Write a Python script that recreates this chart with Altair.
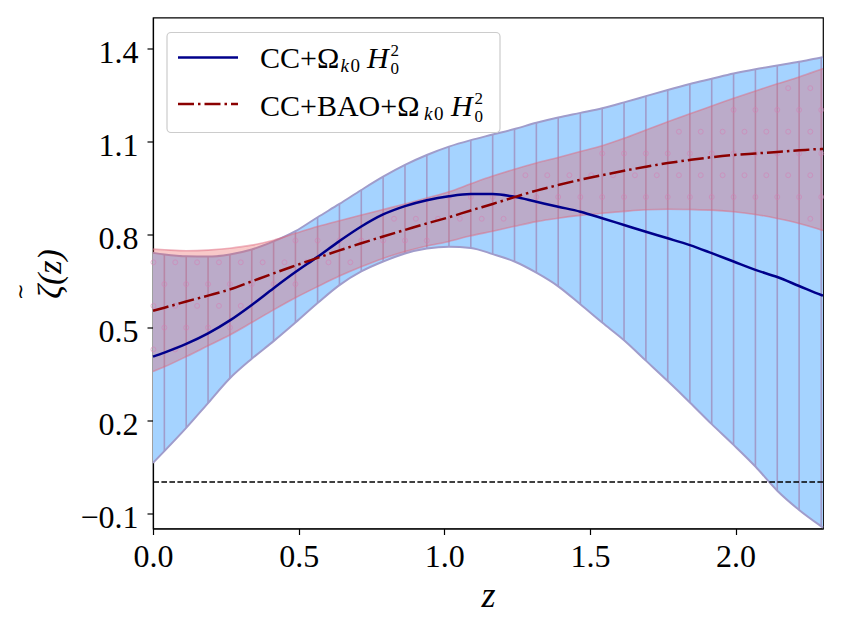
import altair as alt
import pandas as pd

# ---------------- data ----------------
Z = [0.0, 0.039, 0.114, 0.189, 0.264, 0.339, 0.414, 0.489, 0.565, 0.640, 0.715,
     0.790, 0.865, 0.940, 1.016, 1.091, 1.166, 1.241, 1.316, 1.391, 1.467, 1.542,
     1.617, 1.692, 1.767, 1.843, 1.918, 1.993, 2.068, 2.143, 2.218, 2.294, 2.3]

CC_LO = [0.062, 0.100, 0.175, 0.255, 0.335, 0.398, 0.455, 0.515, 0.578, 0.636, 0.680,
         0.712, 0.738, 0.754, 0.760, 0.756, 0.736, 0.712, 0.676, 0.632, 0.574, 0.515,
         0.458, 0.392, 0.326, 0.257, 0.187, 0.120, 0.050, -0.028, -0.090, -0.143, -0.147]

CC_HI = [0.740, 0.735, 0.729, 0.728, 0.735, 0.751, 0.777, 0.810, 0.855, 0.898, 0.943,
         0.986, 1.024, 1.056, 1.083, 1.104, 1.122, 1.140, 1.160, 1.177, 1.192, 1.207,
         1.226, 1.246, 1.266, 1.285, 1.302, 1.319, 1.333, 1.345, 1.357, 1.371, 1.372]

BAO_LO = [0.357, 0.372, 0.405, 0.440, 0.475, 0.515, 0.556, 0.595, 0.631, 0.665, 0.695,
          0.722, 0.744, 0.762, 0.777, 0.795, 0.810, 0.826, 0.841, 0.852, 0.861, 0.868,
          0.874, 0.879, 0.881, 0.880, 0.878, 0.873, 0.864, 0.851, 0.835, 0.814, 0.812]

BAO_HI = [0.752, 0.750, 0.747, 0.749, 0.755, 0.765, 0.781, 0.803, 0.825, 0.844, 0.862,
          0.880, 0.898, 0.917, 0.937, 0.963, 0.988, 1.010, 1.030, 1.048, 1.067, 1.086,
          1.110, 1.137, 1.163, 1.189, 1.214, 1.239, 1.263, 1.286, 1.308, 1.333, 1.335]

CC_MEAN = [0.405, 0.418, 0.446, 0.480, 0.522, 0.572, 0.626, 0.678, 0.727, 0.778, 0.825,
           0.864, 0.891, 0.910, 0.923, 0.930, 0.930, 0.921, 0.905, 0.889, 0.873, 0.852,
           0.830, 0.808, 0.787, 0.765, 0.739, 0.712, 0.685, 0.662, 0.633, 0.604, 0.602]

BAO_MEAN = [0.553, 0.563, 0.583, 0.602, 0.622, 0.648, 0.674, 0.699, 0.724, 0.748, 0.771,
            0.793, 0.814, 0.835, 0.855, 0.877, 0.898, 0.920, 0.941, 0.959, 0.976, 0.991,
            1.005, 1.018, 1.030, 1.040, 1.049, 1.056, 1.061, 1.066, 1.071, 1.075, 1.075]

ZERO = [0.0]
X_TICKS = [0.0, 0.5, 1.0, 1.5, 2.0]
Y_TICKS = [-0.1, 0.2, 0.5, 0.8, 1.1, 1.4]

# ---------------- tables ----------------
band = pd.DataFrame({"z": Z, "cc_lo": CC_LO, "cc_hi": CC_HI,
                     "bao_lo": BAO_LO, "bao_hi": BAO_HI,
                     "cc": CC_MEAN, "bao": BAO_MEAN})
hatch = band.iloc[1:-1]

# 'o' hatch of the CC+BAO band: staggered circles kept inside the band
half = 0.0376
circ = []
m = 0.013
for j in range(15):
    yv = 0.358 + 0.0703 * j
    for i in range(1, len(Z) - 1):
        if j % 2 == 0:
            zc, lo, hi = Z[i], BAO_LO[i], BAO_HI[i]
        else:
            zc = Z[i] - half
            lo = max(BAO_LO[i - 1], BAO_LO[i])
            hi = min(BAO_HI[i - 1], BAO_HI[i])
        if lo + m < yv < hi - m and 0 <= zc <= 2.3:
            circ.append({"z": zc, "y": yv})
circles = pd.DataFrame(circ)

SERIF = "Liberation Serif"
xs = alt.Scale(domain=[0, 2.3], nice=False, zero=False)
ys = alt.Scale(domain=[-0.15, 1.5], nice=False, zero=False)

x_axis = alt.Axis(values=X_TICKS, format=".1f", title="z", grid=False,
                  labelFont=SERIF, labelFontSize=32, labelColor="black",
                  labelFlush=False, labelOverlap=False, labelBaseline="alphabetic",
                  labelPadding=32, tickSize=6, tickWidth=1.2, tickColor="black",
                  domainColor="black", domainWidth=1.2,
                  titleFont=SERIF, titleFontSize=36, titleFontStyle="italic",
                  titleFontWeight="normal", titleColor="black",
                  titleX=335, titleY=78, titleBaseline="alphabetic", titleAlign="center")
y_axis = alt.Axis(values=Y_TICKS, grid=False,
                  labelExpr="replace(format(datum.value, '.1f'), '-', '\u2212')",
                  labelFont=SERIF, labelFontSize=32, labelColor="black",
                  labelFlush=False, labelOverlap=False, labelBaseline="alphabetic",
                  labelOffset=14, labelPadding=9, tickSize=6, tickWidth=1.2,
                  tickColor="black", domainColor="black", domainWidth=1.2,
                  title="\u03b6(z)", titleFont=SERIF, titleFontSize=34,
                  titleFontStyle="italic", titleFontWeight="normal", titleColor="black",
                  titleAngle=270, titleX=-103, titleY=256, titleBaseline="middle",
                  titleAlign="center")


def X(field="z"):
    return alt.X(f"{field}:Q", scale=xs, axis=x_axis)


def Y(field):
    return alt.Y(f"{field}:Q", scale=ys, axis=y_axis)


base = alt.Chart(band)
SM = "monotone"

blue_area = base.mark_area(color="#a5d3ff", opacity=1, interpolate=SM).encode(
    x=X(), y=Y("cc_lo"), y2="cc_hi")
blue_hatch = alt.Chart(hatch).mark_rule(color="#a09ccb", strokeWidth=1.6).encode(
    x=X(), y=Y("cc_lo"), y2="cc_hi")
blue_lo = base.mark_line(color="#a09ccb", strokeWidth=2, interpolate=SM).encode(
    x=X(), y=Y("cc_lo"))
blue_hi = base.mark_line(color="#a09ccb", strokeWidth=2, interpolate=SM).encode(
    x=X(), y=Y("cc_hi"))

red_area = base.mark_area(color="#eb5a5a", opacity=0.33, interpolate=SM).encode(
    x=X(), y=Y("bao_lo"), y2="bao_hi")
red_lo = base.mark_line(color="#e06a80", strokeWidth=1.6, opacity=0.5,
                        interpolate=SM).encode(x=X(), y=Y("bao_lo"))
red_hi = base.mark_line(color="#e06a80", strokeWidth=1.6, opacity=0.5,
                        interpolate=SM).encode(x=X(), y=Y("bao_hi"))
red_circ = alt.Chart(circles).mark_point(shape="circle", filled=False, size=24,
                                          color="#d77fb5", strokeWidth=1,
                                          opacity=0.55).encode(x=X(), y=Y("y"))

cc_line = base.mark_line(color="#00008b", strokeWidth=2.5, interpolate=SM).encode(
    x=X(), y=Y("cc"))
bao_line = base.mark_line(color="#8b0000", strokeWidth=2.5, interpolate=SM,
                          strokeDash=[16, 4, 2.5, 4]).encode(x=X(), y=Y("bao"))

zero = alt.Chart(pd.DataFrame({"y": ZERO})).mark_rule(
    color="black", strokeWidth=1.5, strokeDash=[5.6, 2.4]).encode(y=Y("y"))

# tilde of the y-axis title (a vertical tilde beside the rotated zeta)
one = pd.DataFrame({"k": [0]})
tilde = alt.Chart(one).mark_text(text="\u2240", font="DejaVu Serif", fontSize=20,
                                 align="center", baseline="middle",
                                 color="black").encode(x=alt.value(-132),
                                                       y=alt.value(274))

# ---------------- legend ----------------
leg_box = alt.Chart(one).mark_rect(fill="white", fillOpacity=0.8, stroke="#cccccc",
                                   strokeWidth=1.2, cornerRadius=4).encode(
    x=alt.value(14), x2=alt.value(347), y=alt.value(15), y2=alt.value(115))
leg_blue = alt.Chart(one).mark_rule(color="#00008b", strokeWidth=2.5).encode(
    x=alt.value(25), x2=alt.value(85), y=alt.value(40))
leg_red = alt.Chart(one).mark_rule(color="#8b0000", strokeWidth=2.5,
                                   strokeDash=[16, 4, 2.5, 4]).encode(
    x=alt.value(25), x2=alt.value(85), y=alt.value(86.5))


def txt(s, x, y, size=30, italic=False):
    return alt.Chart(one).mark_text(text=s, font=SERIF, fontSize=size,
                                    fontStyle="italic" if italic else "normal",
                                    align="left", baseline="alphabetic",
                                    color="black").encode(x=alt.value(x), y=alt.value(y))


r1, r2 = 50.8, 98.2
legend_texts = [
    txt("CC+\u03a9", 107, r1),
    txt("k", 187.5, r1 + 4, 19, True), txt("0", 197.5, r1 + 4, 19),
    txt("H", 214, r1, 30, True),
    txt("2", 237.5, r1 - 12, 17), txt("0", 237.5, r1 + 6, 17),
    txt("CC+BAO+\u03a9", 107, r2),
    txt("k", 271, r2 + 4, 19, True), txt("0", 281, r2 + 4, 19),
    txt("H", 298, r2, 30, True),
    txt("2", 321.5, r2 - 12, 17), txt("0", 321.5, r2 + 6, 17),
]

chart = alt.layer(
    blue_area, blue_hatch, blue_lo, blue_hi,
    red_area, red_lo, red_hi, red_circ,
    cc_line, bao_line, zero, tilde,
    leg_box, leg_blue, leg_red, *legend_texts
).properties(
    width=670, height=511,
    autosize=alt.AutoSizeParams(type="none"),
    padding={"left": 145, "top": 9.5, "right": 10, "bottom": 95},
    background="white",
).configure_view(stroke="black", strokeWidth=1.2)

chart.save("out.html", embed_options={"renderer": "svg", "actions": False})
